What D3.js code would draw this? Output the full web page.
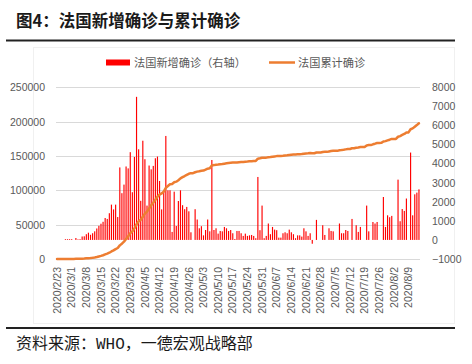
<!DOCTYPE html>
<html><head><meta charset="utf-8">
<script src="https://cdn.jsdelivr.net/npm/d3@7"></script>
<style>body{margin:0;background:#fff;} svg{display:block;}</style>
</head><body>
<svg id="c" width="472" height="364"></svg>
<script>
// ---- data ----
const startDay = [2020, 1, 23];   // 2020/2/23
const dayCount = 174;             // through 2020/8/14
const newCases = [
  0,0,0,0,40,40,40,40,0,100,
  30,40,180,190,300,380,270,350,450,600,
  740,850,950,1150,1100,1400,1850,1600,1850,1200,
  3800,2450,2900,3850,3750,4600,2500,4350,7500,4750,
  2050,5200,4230,1800,3900,3700,3880,4280,4370,3090,
  1600,2600,5450,2600,2600,420,2530,730,2040,2600,
  1820,1610,1730,1500,400,0,1610,1070,610,720,
  240,520,1070,450,4190,520,610,330,470,450,
  680,610,470,520,350,50,470,470,350,210,
  330,210,240,260,210,90,3300,510,1800,90,
  210,860,300,680,540,510,120,120,350,400,
  350,540,400,300,90,240,240,175,610,450,
  210,350,-200,0,1050,0,0,770,260,0,
  610,470,450,0,0,860,350,350,520,470,
  0,1100,0,770,420,680,0,0,1800,450,
  0,940,860,940,0,0,2250,680,1290,1190,
  1260,0,0,3160,980,1620,1520,2170,0,4580,
  1290,2390,2480,2650
];
const cumCases = [
  0,12,12,12,18,38,57,100,130,191,
  212,285,423,613,949,1126,1412,1784,2281,2876,
  3661,4499,5423,6633,7730,9134,10995,12612,14459,16018,
  19856,22304,25233,29155,32964,37575,40174,44550,50500,55000,
  57000,61500,66000,69000,73500,78167,82048,86334,90676,93790,
  95403,98076,103573,106206,108847,109252,111821,112606,114657,117324,
  119151,120804,122577,124114,125000,125000,126300,127200,127800,128500,
  128700,130000,131500,132100,136300,136700,137200,137500,137900,138300,
  138800,139300,139700,140100,140400,140500,140600,140900,141200,141400,
  141700,141900,142200,142400,142700,142800,146100,146600,147300,147400,
  147600,148200,148500,149000,149400,149800,149900,150000,150300,150700,
  151000,151400,151800,152100,152200,152400,152600,152800,153300,153700,
  153900,154200,154000,154000,155000,155000,155000,155800,156000,156000,
  156600,157100,157500,157500,157500,158400,158700,159100,159600,160100,
  160100,161200,161200,162000,162400,163100,163100,163100,165400,165900,
  165900,167000,167900,168900,169000,169100,171000,171600,172700,173700,
  174900,174900,174900,178000,179000,180600,182100,184300,184300,188900,
  190200,192600,195000,197700
];
const xTickLabels = ["2020/2/23","2020/3/1","2020/3/8","2020/3/15","2020/3/22","2020/3/29",
  "2020/4/5","2020/4/12","2020/4/19","2020/4/26","2020/5/3","2020/5/10","2020/5/17",
  "2020/5/24","2020/5/31","2020/6/7","2020/6/14","2020/6/21","2020/6/28","2020/7/5",
  "2020/7/12","2020/7/19","2020/7/26","2020/8/2","2020/8/9"];
const leftTicks = [0,50000,100000,150000,200000,250000];
const rightTicks = [-1000,0,1000,2000,3000,4000,5000,6000,7000,8000];
const seriesNames = ["法国新增确诊（右轴）","法国累计确诊"];
const titleText = "图4：法国新增确诊与累计确诊";

// ---- build ----
const fmt = d => `${d.getFullYear()}/${d.getMonth()+1}/${d.getDate()}`;
const d0 = new Date(startDay[0], startDay[1], startDay[2]);
const dates = d3.range(dayCount).map(i => fmt(d3.timeDay.offset(d0, i)));

const svg = d3.select("#c");
const L = 56, R = 420, T = 87.3, B = 259;
const x = d3.scaleBand().domain(dates).range([L, R]).padding(0);
const yL = d3.scaleLinear().domain([0, 250000]).range([B, T]);
const yR = d3.scaleLinear().domain([-1000, 8000]).range([B, T]);
const gray = "#595959";
const numFont = "'Liberation Sans', Arial, sans-serif";
const cjk = "'Noto Sans CJK SC', sans-serif";

// faint chart border
svg.append("rect").attr("x", 33.5).attr("y", 47.5).attr("width", 421).attr("height", 276)
  .attr("fill", "none").attr("stroke", "#f0f0f0");

// title
svg.append("text").attr("x", 16).attr("y", 26.5).attr("font-family", cjk)
  .attr("font-size", 16.5).attr("font-weight", "bold").attr("fill", "#1a1a1a").text(titleText);
svg.append("line").attr("x1", 6).attr("x2", 455).attr("y1", 40.5).attr("y2", 40.5)
  .attr("stroke", "#222").attr("stroke-width", 2);

// grid
svg.append("g").selectAll("line").data(leftTicks).join("line")
  .attr("x1", L).attr("x2", R).attr("y1", d => Math.round(yL(d)) + 0.5).attr("y2", d => Math.round(yL(d)) + 0.5)
  .attr("stroke", "#d9d9d9").attr("stroke-width", 1);

// left axis
const gL = svg.append("g").attr("transform", `translate(${L},0)`)
  .call(d3.axisLeft(yL).tickValues(leftTicks).tickFormat(d3.format("d")).tickSize(0).tickPadding(11));
gL.select(".domain").remove();
gL.selectAll("text").attr("font-family", numFont).attr("font-size", 10.5).attr("fill", gray);

// right axis
const gR = svg.append("g").attr("transform", `translate(${R},0)`)
  .call(d3.axisRight(yR).tickValues(rightTicks).tickFormat(d3.format("d")).tickSize(0).tickPadding(12));
gR.select(".domain").remove();
gR.selectAll("text").attr("font-family", numFont).attr("font-size", 10.5).attr("fill", gray);

// bars
const bw = x.bandwidth() * 0.55;
svg.append("g").selectAll("rect").data(newCases.map((v, i) => ({d: dates[i], v}))).join("rect")
  .attr("x", p => x(p.d) + x.bandwidth() / 2 - bw / 2)
  .attr("width", bw)
  .attr("y", p => Math.min(yR(p.v), yR(0)))
  .attr("height", p => Math.abs(yR(p.v) - yR(0)))
  .attr("fill", "#ff0000");

// line
const line = d3.line().x((v, i) => x(dates[i]) + x.bandwidth() / 2).y(v => yL(v));
svg.append("path").datum(cumCases).attr("d", line).attr("fill", "none")
  .attr("stroke", "#ed7d31").attr("stroke-width", 2.5).attr("stroke-linejoin", "round").attr("stroke-linecap", "round");

// x axis labels
const gX = svg.append("g").attr("transform", `translate(0,${B})`)
  .call(d3.axisBottom(x).tickValues(dates.filter(d => xTickLabels.includes(d))).tickSize(0));
gX.select(".domain").remove();
gX.selectAll("text").attr("font-family", numFont).attr("font-size", 10.5).attr("fill", gray)
  .attr("transform", "rotate(-90)").attr("text-anchor", "end")
  .attr("x", -8).attr("y", 0).attr("dy", "0.35em");

// legend
const lg = svg.append("g");
lg.append("rect").attr("x", 106).attr("y", 59.5).attr("width", 24).attr("height", 6).attr("fill", "#ff0000");
lg.append("text").attr("x", 134).attr("y", 66.5).attr("font-family", cjk).attr("font-size", 11.2)
  .attr("fill", gray).text(seriesNames[0]);
lg.append("line").attr("x1", 269).attr("x2", 295).attr("y1", 62.5).attr("y2", 62.5)
  .attr("stroke", "#ed7d31").attr("stroke-width", 2.5);
lg.append("text").attr("x", 298).attr("y", 66.5).attr("font-family", cjk).attr("font-size", 11.2)
  .attr("fill", gray).text(seriesNames[1]);

// bottom rule and source
svg.append("line").attr("x1", 6).attr("x2", 455).attr("y1", 328).attr("y2", 328)
  .attr("stroke", "#222").attr("stroke-width", 2);
const src = svg.append("text").attr("x", 16).attr("y", 348.5).attr("font-family", cjk)
  .attr("font-size", 16).attr("fill", "#1a1a1a");
src.append("tspan").text("资料来源：");
src.append("tspan").attr("font-family", "'Liberation Mono', 'DejaVu Sans Mono', monospace").text("WHO");
src.append("tspan").text("，一德宏观战略部");
</script>
</body></html>
